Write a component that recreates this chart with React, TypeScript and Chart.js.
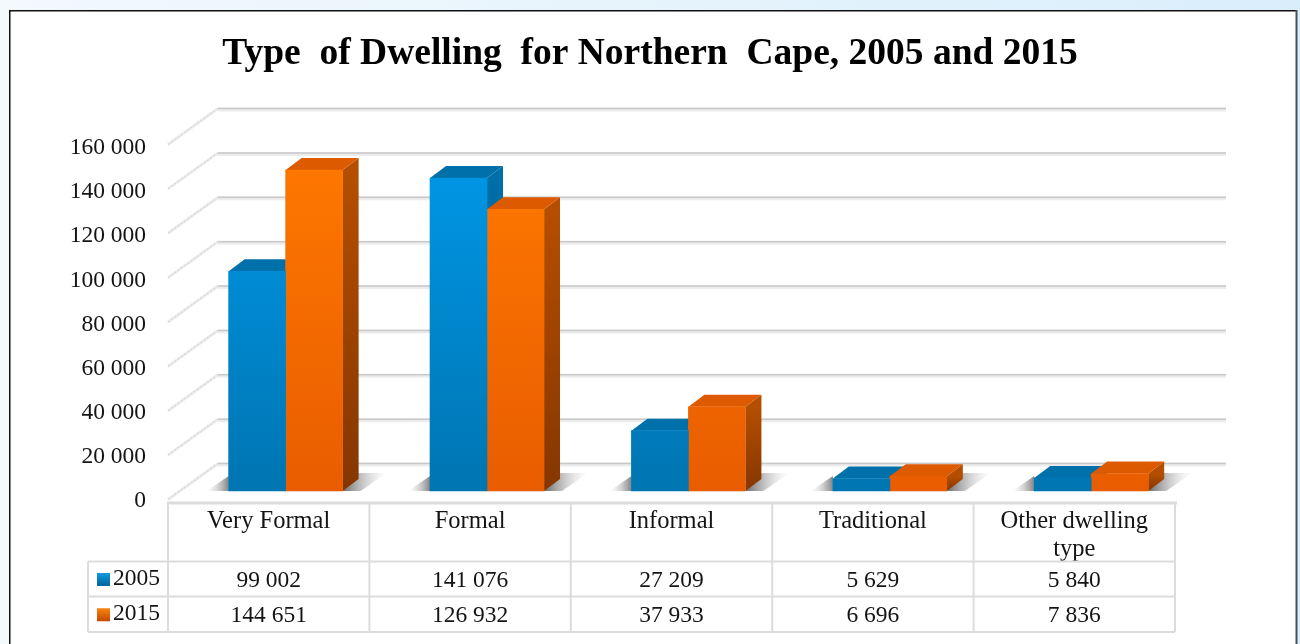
import React, { useEffect, useRef } from "react";
import { Chart, registerables } from "chart.js";

Chart.register(...registerables);

const categories: (string | string[])[] = ["Very Formal", "Formal", "Informal", "Traditional", ["Other dwelling", "type"]];
const values2005 = [99002, 141076, 27209, 5629, 5840];
const values2015 = [144651, 126932, 37933, 6696, 7836];
const seriesNames = ["2005", "2015"];
const titleText = "Type  of Dwelling  for Northern  Cape, 2005 and 2015";

const SERIF = '"Liberation Serif", serif';
const TEXT = "#141414";
const fmt = (v: number) => String(v).replace(/\B(?=(\d{3})+$)/g, " ");

const faces = [
  { front: ["#0098e8", "#0074b0"], top: "#0070ab", side: ["#006fa8", "#004f7c"], key: ["#12a0e0", "#0068a0"] },
  { front: ["#ff7800", "#e85c00"], top: "#dd5a00", side: ["#b54e00", "#853600"], key: ["#ff8a10", "#c84c00"] },
];

const DEPTH_X = 16;
const DEPTH_Y = 12;
const WALL_X = 50;
const WALL_UP = 27.5;
const WALL_DOWN = 8.5;
const ROW_LINES = [503, 561.5, 596.5, 632];
const KEY_LEFT = 88;

const poly = (ctx: CanvasRenderingContext2D, pts: number[][]) => {
  ctx.beginPath();
  pts.forEach(([x, y], i) => (i ? ctx.lineTo(x, y) : ctx.moveTo(x, y)));
  ctx.closePath();
};

const scenePlugin = {
  id: "scene",
  beforeDraw(chart: any) {
    const { ctx, width, height } = chart;
    const bg = ctx.createLinearGradient(0, 0, width, 0);
    bg.addColorStop(0, "#f3f9fd");
    bg.addColorStop(1, "#d9eefb");
    ctx.fillStyle = bg;
    ctx.fillRect(0, 0, width, height);
    ctx.fillStyle = "#ffffff";
    ctx.fillRect(10, 10, 1286, height);
    ctx.fillStyle = "#111111";
    ctx.fillRect(9, 10, 1288, 1.5);
    ctx.fillRect(9, 10, 1.5, height);
    ctx.fillStyle = "#4a4f55";
    ctx.fillRect(1295.5, 10, 2, height);
  },
  beforeDatasetsDraw(chart: any) {
    const { ctx, chartArea: a, scales } = chart;
    const yb = scales.yb;
    ctx.save();
    scales.y.ticks.forEach((t: any) => {
      const p = yb.getPixelForValue(t.value);
      ctx.strokeStyle = "#ececec";
      ctx.lineWidth = 4;
      ctx.beginPath();
      ctx.moveTo(a.left + WALL_X, p - WALL_UP + 1);
      ctx.lineTo(a.right + WALL_X + 1, p - WALL_UP + 1);
      ctx.stroke();
      ctx.strokeStyle = "#c9c9c9";
      ctx.lineWidth = 1.5;
      ctx.beginPath();
      ctx.moveTo(a.left + WALL_X, p - WALL_UP);
      ctx.lineTo(a.right + WALL_X + 1, p - WALL_UP);
      ctx.stroke();
      ctx.strokeStyle = "#ececec";
      ctx.lineWidth = 3;
      ctx.beginPath();
      ctx.moveTo(a.left, p + WALL_DOWN);
      ctx.lineTo(a.left + WALL_X, p - WALL_UP);
      ctx.stroke();
      ctx.strokeStyle = "#cfcfcf";
      ctx.lineWidth = 1;
      ctx.setLineDash([2, 2]);
      ctx.beginPath();
      ctx.moveTo(a.left, p + WALL_DOWN);
      ctx.lineTo(a.left + WALL_X, p - WALL_UP);
      ctx.stroke();
      ctx.setLineDash([]);
    });

    const m0 = chart.getDatasetMeta(0).data;
    const m1 = chart.getDatasetMeta(1).data;
    m0.forEach((_: any, i: number) => {
      const L = m0[i].x - m0[i].width / 2;
      const R = m1[i].x + m1[i].width / 2;
      const base = m0[i].base;
      const right = ctx.createLinearGradient(R, 0, R + 44, 0);
      right.addColorStop(0, "rgba(90,90,90,0.9)");
      right.addColorStop(1, "rgba(200,200,200,0)");
      ctx.fillStyle = right;
      poly(ctx, [[R, base], [R + DEPTH_X, base - 18], [R + 44, base - 18], [R + 18, base]]);
      ctx.fill();
      const left = ctx.createLinearGradient(L - 22, 0, L, 0);
      left.addColorStop(0, "rgba(200,200,200,0)");
      left.addColorStop(1, "rgba(110,110,110,0.85)");
      ctx.fillStyle = left;
      poly(ctx, [[L, base], [L, base - 15], [L - 22, base]]);
      ctx.fill();
    });

    [m0, m1].forEach((meta: any[], s: number) => {
      meta.forEach((bar: any) => {
        const l = bar.x - bar.width / 2;
        const r = bar.x + bar.width / 2;
        const sg = ctx.createLinearGradient(0, bar.y, 0, bar.base);
        sg.addColorStop(0, faces[s].side[0]);
        sg.addColorStop(1, faces[s].side[1]);
        ctx.fillStyle = sg;
        poly(ctx, [[r, bar.y], [r + DEPTH_X, bar.y - DEPTH_Y], [r + DEPTH_X, bar.base - DEPTH_Y], [r, bar.base]]);
        ctx.fill();
        ctx.fillStyle = faces[s].top;
        poly(ctx, [[l, bar.y], [l + DEPTH_X, bar.y - DEPTH_Y], [r + DEPTH_X, bar.y - DEPTH_Y], [r, bar.y]]);
        ctx.fill();
      });
    });
    ctx.restore();
  },
  afterDraw(chart: any) {
    const { ctx, chartArea: a, scales } = chart;
    const x = scales.x;
    const colW = (a.right - a.left) / categories.length;
    ctx.save();
    ctx.strokeStyle = "#dcdcdc";
    ctx.lineWidth = 3;
    ctx.beginPath();
    ctx.moveTo(a.left - 1, ROW_LINES[0]);
    ctx.lineTo(a.right + 2, ROW_LINES[0]);
    ctx.stroke();
    ctx.lineWidth = 2;
    ROW_LINES.slice(1).forEach((ry) => {
      ctx.beginPath();
      ctx.moveTo(KEY_LEFT, ry);
      ctx.lineTo(a.right, ry);
      ctx.stroke();
    });
    for (let i = 0; i <= categories.length; i++) {
      const vx = a.left + i * colW;
      ctx.beginPath();
      ctx.moveTo(vx, ROW_LINES[0]);
      ctx.lineTo(vx, ROW_LINES[3]);
      ctx.stroke();
    }
    ctx.beginPath();
    ctx.moveTo(KEY_LEFT, ROW_LINES[1]);
    ctx.lineTo(KEY_LEFT, ROW_LINES[3]);
    ctx.stroke();

    ctx.font = `23.5px ${SERIF}`;
    ctx.textBaseline = "middle";
    [values2005, values2015].forEach((vals, s) => {
      const cy = (ROW_LINES[s + 1] + ROW_LINES[s + 2]) / 2 + 2;
      ctx.textAlign = "center";
      ctx.fillStyle = TEXT;
      vals.forEach((v, i) => ctx.fillText(fmt(v), x.getPixelForTick(i), cy));
      ctx.textAlign = "left";
      ctx.fillText(seriesNames[s], 113, cy - 2);
      const kg = ctx.createLinearGradient(0, cy - 9, 0, cy + 4);
      kg.addColorStop(0, faces[s].key[0]);
      kg.addColorStop(1, faces[s].key[1]);
      ctx.fillStyle = kg;
      ctx.fillRect(97, cy - 8, 13, 13);
    });
    ctx.restore();
  },
};

export default function App() {
  const ref = useRef<HTMLCanvasElement>(null);
  useEffect(() => {
    document.body.style.margin = "0";
    const frontFill = (s: number) => (c: any) => {
      const { ctx, chartArea } = c.chart;
      if (!chartArea) return faces[s].front[0];
      const g = ctx.createLinearGradient(0, chartArea.top, 0, chartArea.bottom);
      g.addColorStop(0, faces[s].front[0]);
      g.addColorStop(1, faces[s].front[1]);
      return g;
    };
    const toPoints = (vals: number[]) => vals.map((v, i) => ({ x: i, y: v }));
    const chart = new Chart(ref.current!, {
      type: "bar",
      data: {
        labels: categories as any,
        datasets: [
          { label: seriesNames[0], data: toPoints(values2005) as any, xAxisID: "xb", yAxisID: "yb", backgroundColor: frontFill(0), barThickness: 57 },
          { label: seriesNames[1], data: toPoints(values2015) as any, xAxisID: "xb", yAxisID: "yb", backgroundColor: frontFill(1), barThickness: 57 },
        ],
      },
      options: {
        animation: false,
        responsive: false,
        layout: { padding: { left: 60, right: 60, top: 0, bottom: 0 } },
        plugins: {
          legend: { display: false },
          tooltip: { enabled: false },
          title: {
            display: true,
            text: titleText,
            color: "#000000",
            font: { family: SERIF, size: 37.5, weight: "bold", lineHeight: 1.2 },
            padding: { top: 31.5, bottom: 71.5 },
          },
        },
        scales: {
          x: {
            type: "category",
            offset: true,
            border: { display: false },
            grid: { display: false, drawTicks: false },
            ticks: {
              color: TEXT,
              font: { family: SERIF, size: 24.5, lineHeight: 1.15 },
              padding: 6,
              maxRotation: 0,
              autoSkip: false,
            },
            afterFit: (s: any) => { s.height = 143; },
          },
          xb: {
            type: "linear",
            axis: "x",
            display: false,
            min: -0.584,
            max: 4.416,
            offset: false,
          },
          y: {
            min: 0,
            max: 160000,
            border: { display: false },
            grid: { display: false, drawTicks: false },
            ticks: {
              stepSize: 20000,
              color: TEXT,
              padding: 22,
              font: { family: SERIF, size: 23.5 },
              callback: (v: any) => fmt(Number(v)),
            },
            afterFit: (s: any) => { s.width = 108; },
          },
          yb: {
            type: "linear",
            axis: "y",
            position: "right",
            display: true,
            border: { display: false },
            grid: { display: false, drawTicks: false },
            ticks: { display: false },
            min: -4507,
            max: 154592,
            afterFit: (s: any) => { s.width = 65; },
          },
        },
      } as any,
      plugins: [scenePlugin],
    });
    return () => chart.destroy();
  }, []);
  return (
    <div style={{ position: "absolute", left: 0, top: 0, width: 1300, height: 644, overflow: "hidden" }}>
      <canvas ref={ref} width={1300} height={644} style={{ display: "block" }} />
    </div>
  );
}
